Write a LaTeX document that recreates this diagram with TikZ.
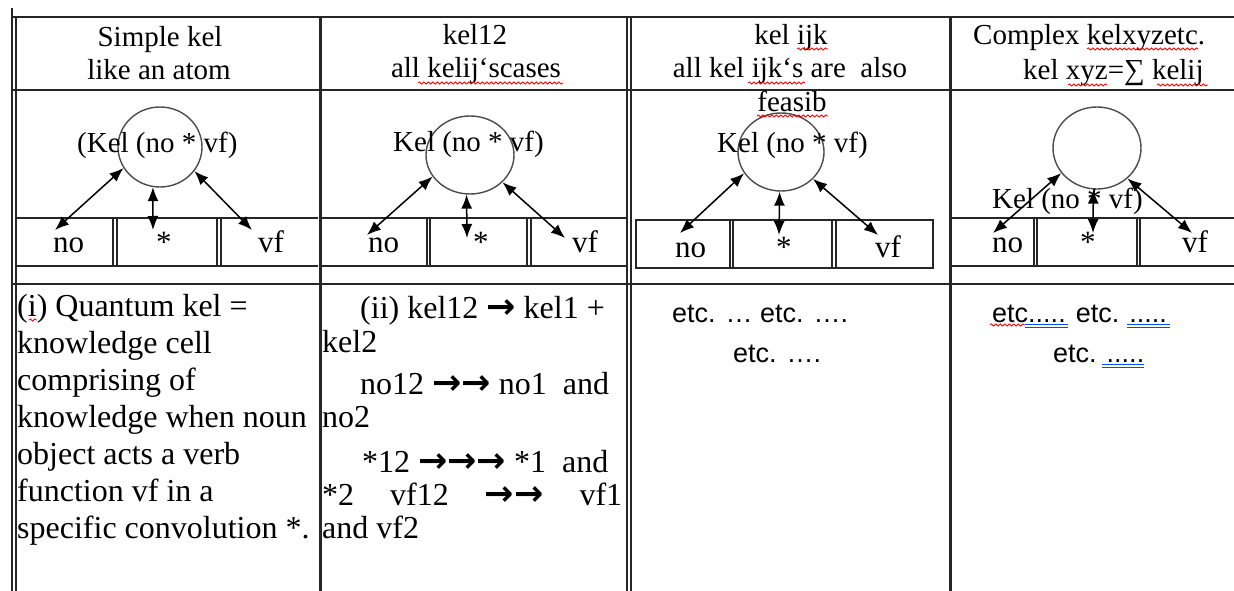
\documentclass[tikz,border=0pt]{standalone}
\usepackage{fontspec}
\setmainfont{Liberation Serif}
\newfontfamily\kelsymfont{DejaVu Sans}
\newfontfamily\etcfont{Liberation Sans}
\usetikzlibrary{arrows.meta,positioning,shapes.geometric,decorations.pathmorphing}
\newcommand{\kelarrow}{{\kelsymfont\bfseries\fontsize{35}{37}\selectfont →}}

\begin{document}
\begin{tikzpicture}[
  x=1pt, y=-1pt,
  tabline/.style={draw=black!85, line width=1.4pt},
  hd/.style={font=\fontsize{29}{32}\selectfont, inner sep=0pt, anchor=base},
  lbl/.style={font=\fontsize{29}{32}\selectfont, inner sep=0pt, anchor=base west},
  cell/.style={font=\fontsize{31}{32}\selectfont, inner sep=0pt, anchor=base west},
  bd/.style={font=\fontsize{32}{37}\selectfont, inner sep=0pt, anchor=base west},
  etc/.style={font=\etcfont\fontsize{27}{30}\selectfont, inner sep=0pt, anchor=base west},
  kel/.style={draw=black!70, line width=1.4pt, ellipse, inner sep=0pt},
  arrow/.style={{Latex[length=14pt,width=11pt]}-{Latex[length=14pt,width=11pt]}, line width=1.5pt},
  squiggle/.style={draw=red, line width=0.8pt, decorate, decoration={snake, amplitude=1.1pt, segment length=4.5pt}},
  dbl/.style={draw=blue!70!cyan, line width=0.9pt}
]
\useasboundingbox (0,0) rectangle (1234,591);

% table rules
\draw[tabline] (12,8) -- (12,591);
\draw[tabline] (16,17) -- (16,591);
\draw[tabline] (11,17) -- (1234,17);
\draw[tabline] (11,90) -- (1234,90);
\draw[tabline] (11,284) -- (1234,284);
\draw[tabline, line width=3pt] (320,17) -- (320,591);
\draw[tabline] (627,17) -- (627,591);
\draw[tabline] (631,17) -- (631,591);
\draw[tabline, line width=3pt] (950,17) -- (950,591);

% cell strips
\draw[tabline] (16,218) -- (318,218) (16,266) -- (318,266);
\draw[tabline] (113,218) -- (113,266) (117,218) -- (117,266);
\draw[tabline] (217,218) -- (217,266) (221,218) -- (221,266);
\draw[tabline] (322,218) -- (627,218) (322,266) -- (627,266);
\draw[tabline] (427,218) -- (427,266) (430,218) -- (430,266);
\draw[tabline] (527,218) -- (527,266) (531,218) -- (531,266);
\draw[tabline] (636,220) rectangle (933,268);
\draw[tabline] (730,220) -- (730,268) (733,220) -- (733,268);
\draw[tabline] (832,220) -- (832,268) (836,220) -- (836,268);
\draw[tabline] (950,218) -- (1234,218) (950,266) -- (1234,266);
\draw[tabline] (1034,218) -- (1034,266) (1037,218) -- (1037,266);
\draw[tabline] (1137,218) -- (1137,266) (1140,218) -- (1140,266);

% headers
\node[hd] (h1a) at (160,47) {Simple kel};
\node[hd] (h1b) at (159,80) {like an atom};
\node[hd] (h2a) at (475,45) {kel12};
\node[hd] (h2b) at (476,78) {all kelij‘scases};
\node[hd] (h3a) at (791,45) {kel ijk};
\node[hd] (h3b) at (790,78) {all kel ijk‘s are~~also};
\node[hd] (h3c) at (792,112) {feasib};
\node[lbl] (h4a) at (973,45) {Complex kelxyzetc.};
\node[lbl] (h4b) at (1023,80) {kel xyz=∑ kelij};

% kel circles
\node[kel, minimum width=84pt, minimum height=80pt] (c1) at (160,147) {};
\node[kel, minimum width=88pt, minimum height=78pt] (c2) at (470,155) {};
\node[kel, minimum width=86pt, minimum height=78pt] (c3) at (781,152) {};
\node[kel, minimum width=88pt, minimum height=82pt] (c4) at (1097,148) {};

\node[lbl] (k1) at (77,153) {(Kel (no * vf)};
\node[lbl] (k2) at (393,152) {Kel (no * vf)};
\node[lbl] (k3) at (717,153) {Kel (no * vf)};
\node[lbl] (k4) at (992,208) {Kel (no * vf)};

% cell labels
\node[cell] (no1) at (53,252) {no};
\node[cell] (st1) at (156,252) {*};
\node[cell] (vf1) at (258,252) {vf};
\node[cell] (no2) at (368,252) {no};
\node[cell] (st2) at (473,252) {*};
\node[cell] (vf2) at (572,252) {vf};
\node[cell] (no3) at (675,257) {no};
\node[cell] (st3) at (776,257) {*};
\node[cell] (vf3) at (875,257) {vf};
\node[cell] (no4) at (992,252) {no};
\node[cell] (st4) at (1080,252) {*};
\node[cell] (vf4) at (1182,252) {vf};

% arrow ends
\coordinate (e1l) at (55,230);
\coordinate (e1m) at (153,230);
\coordinate (e1r) at (252,230);
\coordinate (e2l) at (367,235);
\coordinate (e2m) at (467,238);
\coordinate (e2r) at (565,238);
\coordinate (e3l) at (680,233);
\coordinate (e3m) at (779,235);
\coordinate (e3r) at (878,235);
\coordinate (e4l) at (993,233);
\coordinate (e4m) at (1093,233);
\coordinate (e4r) at (1192,233);

\draw[arrow] (c1.-150) -- (e1l);
\draw[arrow] (c1.-100) -- (e1m);
\draw[arrow] (c1.-35) -- (e1r);
\draw[arrow] (c2.-150) -- (e2l);
\draw[arrow] (c2.-95) -- (e2m);
\draw[arrow] (c2.-40) -- (e2r);
\draw[arrow] (c3.-150) -- (e3l);
\draw[arrow] (c3.-92) -- (e3m);
\draw[arrow] (c3.-40) -- (e3r);
\draw[arrow] (c4.-145) -- (e4l);
\draw[arrow] (c4.-95) -- (e4m);
\draw[arrow] (c4.-45) -- (e4r);

% body texts
\node[bd] (b1a) at (17,316) {(i) Quantum kel =};
\node[bd] (b1b) at (17,353) {knowledge cell};
\node[bd] (b1c) at (17,390) {comprising of};
\node[bd] (b1d) at (17,427) {knowledge when noun};
\node[bd] (b1e) at (17,464) {object acts a verb};
\node[bd] (b1f) at (17,501) {function vf in a};
\node[bd] (b1g) at (17,538) {specific convolution *.};

\node[bd] (b2a) at (360,318) {(ii) kel12 \kelarrow{} kel1 +};
\node[bd] (b2b) at (322,352) {kel2};
\node[bd] (b2c) at (360,394) {no12 \kelarrow\kelarrow{} no1~~and};
\node[bd] (b2d) at (322,427) {no2};
\node[bd] (b2e) at (362,472) {*12 \kelarrow\kelarrow\kelarrow{} *1~~and};
\node[bd] (b2f) at (322,505) {\makebox[300pt][s]{*2 vf12 \kelarrow\kelarrow{} vf1}};
\node[bd] (b2g) at (322,538) {and vf2};

\node[etc] (b3a) at (672,322) {etc. … etc. ….};
\node[etc] (b3b) at (733,362) {etc. ….};
\node[etc] (b4a) at (992,322) {etc..... etc. .....};
\node[etc] (b4b) at (1053,362) {etc. .....};

% spelling marks
\draw[squiggle] (418,83) -- (563,83);
\draw[squiggle] (797,49) -- (828,49);
\draw[squiggle] (748,83) -- (805,83);
\draw[squiggle] (757,116) -- (828,116);
\draw[squiggle] (1087,49) -- (1198,49);
\draw[squiggle] (1068,85) -- (1107,85);
\draw[squiggle] (1157,85) -- (1208,85);
\draw[squiggle] (29,320) -- (37,320);
\draw[squiggle] (990,325) -- (1025,325);
\draw[dbl] (1025,324) -- (1068,324) (1025,327.5) -- (1068,327.5);
\draw[dbl] (1127,324) -- (1170,324) (1127,327.5) -- (1170,327.5);
\draw[dbl] (1102,364) -- (1144,364) (1102,367.5) -- (1144,367.5);
\end{tikzpicture}
\end{document}
